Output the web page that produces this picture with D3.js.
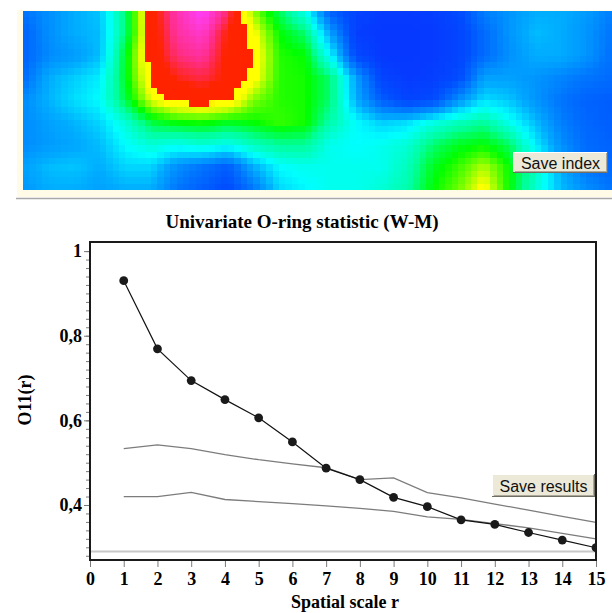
<!DOCTYPE html>
<html>
<head>
<meta charset="utf-8">
<script src="https://cdn.jsdelivr.net/npm/d3@7.9.0/dist/d3.min.js"></script>
<style>
  body { margin: 0; background: #fff; }
  svg { display: block; }
  .serif { font-family: "Liberation Serif", "Times New Roman", serif; font-weight: bold; fill: #000; }
  .btn text { font-family: "Liberation Sans", Arial, sans-serif; font-size: 16px; fill: #111; }
</style>
</head>
<body>
<svg id="chart" width="612" height="613"></svg>
<script>
// spatial scale r and the O-ring statistic with its simulation envelopes
const radii = [1, 2, 3, 4, 5, 6, 7, 8, 9, 10, 11, 12, 13, 14, 15];
const o11 = [0.930, 0.769, 0.694, 0.649, 0.606, 0.549, 0.487, 0.460, 0.418, 0.396, 0.365, 0.354, 0.335, 0.317, 0.299];
const upperEnv = [0.533, 0.542, 0.533, 0.519, 0.507, 0.497, 0.488, 0.460, 0.464, 0.429, 0.417, 0.402, 0.388, 0.373, 0.359];
const lowerEnv = [0.420, 0.420, 0.430, 0.413, 0.408, 0.403, 0.398, 0.392, 0.385, 0.372, 0.366, 0.356, 0.346, 0.333, 0.320];
const expectedLevel = 0.29;

const xTicks = [0, 1, 2, 3, 4, 5, 6, 7, 8, 9, 10, 11, 12, 13, 14, 15];
const yMajor = [0.4, 0.6, 0.8, 1];
const yLabels = ['0,4', '0,6', '0,8', '1'];

// intensity map of the pattern (rows top -> bottom, 0 = low, 1 = high)
const heatGrid = [
  [0.20, 0.25, 0.30, 0.33, 0.55, 0.85, 0.95, 1.00, 0.92, 0.70, 0.56, 0.42, 0.15, 0.08, 0.05, 0.05, 0.06, 0.10, 0.22, 0.26, 0.30, 0.30, 0.27, 0.22],
  [0.16, 0.25, 0.30, 0.32, 0.55, 0.84, 0.94, 0.97, 0.87, 0.77, 0.62, 0.55, 0.28, 0.06, 0.04, 0.04, 0.05, 0.08, 0.18, 0.26, 0.32, 0.30, 0.26, 0.20],
  [0.16, 0.24, 0.27, 0.32, 0.60, 0.84, 0.92, 0.94, 0.86, 0.80, 0.64, 0.62, 0.40, 0.10, 0.04, 0.04, 0.05, 0.08, 0.18, 0.25, 0.30, 0.30, 0.26, 0.19],
  [0.18, 0.30, 0.34, 0.38, 0.60, 0.81, 0.88, 0.90, 0.86, 0.78, 0.64, 0.63, 0.55, 0.28, 0.08, 0.05, 0.06, 0.10, 0.28, 0.28, 0.26, 0.23, 0.20, 0.18],
  [0.24, 0.31, 0.36, 0.40, 0.58, 0.75, 0.82, 0.84, 0.82, 0.69, 0.64, 0.63, 0.55, 0.30, 0.15, 0.08, 0.10, 0.25, 0.36, 0.33, 0.26, 0.20, 0.16, 0.15],
  [0.24, 0.28, 0.31, 0.35, 0.45, 0.58, 0.62, 0.63, 0.60, 0.62, 0.65, 0.63, 0.50, 0.40, 0.34, 0.36, 0.43, 0.48, 0.52, 0.42, 0.32, 0.22, 0.17, 0.15],
  [0.24, 0.27, 0.29, 0.32, 0.40, 0.45, 0.42, 0.45, 0.42, 0.48, 0.52, 0.52, 0.42, 0.40, 0.42, 0.45, 0.55, 0.60, 0.62, 0.56, 0.38, 0.25, 0.18, 0.16],
  [0.28, 0.32, 0.33, 0.30, 0.35, 0.35, 0.25, 0.20, 0.15, 0.30, 0.40, 0.42, 0.42, 0.42, 0.42, 0.48, 0.60, 0.65, 0.72, 0.62, 0.48, 0.30, 0.20, 0.17],
  [0.26, 0.30, 0.30, 0.28, 0.30, 0.30, 0.20, 0.15, 0.10, 0.20, 0.35, 0.39, 0.42, 0.42, 0.45, 0.50, 0.62, 0.68, 0.78, 0.62, 0.45, 0.32, 0.25, 0.20]
];

const svg = d3.select('#chart');

// ---- index map panel ----
svg.append('rect')
  .attr('x', 17).attr('y', 10).attr('width', 595).attr('height', 187)
  .attr('fill', '#fffbe6');
svg.append('line')
  .attr('x1', 16).attr('x2', 612).attr('y1', 198.5).attr('y2', 198.5)
  .attr('stroke', '#a8a8a8').attr('stroke-width', 1.5);

const heat = { x: 23, y: 10.7, w: 589, h: 178.6, cell: 6.4 };
const nRows = heatGrid.length;
const nCols = heatGrid[0].length;
const gx = d3.scaleLinear().domain([heat.x, heat.x + heat.w]).range([0, nCols - 1]);
const gy = d3.scaleLinear().domain([heat.y, heat.y + heat.h]).range([0, nRows - 1]);

const heatColor = d3.scaleLinear()
  .domain([0, 0.12, 0.20, 0.30, 0.40, 0.52, 0.62, 0.70, 0.76, 0.799, 0.80, 0.87, 0.93, 1.0])
  .range(['#0a2cff', '#0050ff', '#0074ff', '#00acff', '#00ffff', '#00ff9a', '#00ff00', '#90ff00', '#ffff00',
          '#ffff00', '#ff2200', '#ff2400', '#ff2e90', '#ff40ff'])
  .clamp(true);

function sampleGrid(px, py) {
  const u = gx(px), v = gy(py);
  const i = Math.max(0, Math.min(Math.floor(u), nCols - 2));
  const j = Math.max(0, Math.min(Math.floor(v), nRows - 2));
  const fu = u - i, fv = v - j;
  const top = d3.interpolateNumber(heatGrid[j][i], heatGrid[j][i + 1])(fu);
  const bot = d3.interpolateNumber(heatGrid[j + 1][i], heatGrid[j + 1][i + 1])(fu);
  return d3.interpolateNumber(top, bot)(fv);
}

const cells = [];
const cols = Math.ceil(heat.w / heat.cell);
const rows = Math.ceil(heat.h / heat.cell);
for (let r = 0; r < rows; r++) {
  for (let c = 0; c < cols; c++) {
    const x0 = heat.x + c * heat.cell;
    const y0 = heat.y + r * heat.cell;
    const w = Math.min(heat.cell, heat.x + heat.w - x0);
    const h = Math.min(heat.cell, heat.y + heat.h - y0);
    cells.push({ x: x0, y: y0, w, h, v: sampleGrid(x0 + w / 2, y0 + h / 2) });
  }
}

svg.append('g')
  .attr('shape-rendering', 'crispEdges')
  .selectAll('rect')
  .data(cells)
  .join('rect')
  .attr('x', d => d.x)
  .attr('y', d => d.y)
  .attr('width', d => d.w + 0.6)
  .attr('height', d => d.h + 0.6)
  .attr('fill', d => heatColor(d.v));

function button(x, y, w, h, label) {
  const g = svg.append('g').attr('class', 'btn').attr('shape-rendering', 'crispEdges');
  g.append('rect').attr('x', x).attr('y', y).attr('width', w).attr('height', h).attr('fill', '#ece9d8');
  g.append('path').attr('d', `M${x + 0.5},${y + h - 1} V${y + 0.5} H${x + w - 1}`)
    .attr('fill', 'none').attr('stroke', '#fff');
  g.append('path').attr('d', `M${x + 1.5},${y + h - 1.5} H${x + w - 1.5} V${y + 1}`)
    .attr('fill', 'none').attr('stroke', '#aca899');
  g.append('path').attr('d', `M${x},${y + h - 0.5} H${x + w - 0.5} V${y}`)
    .attr('fill', 'none').attr('stroke', '#716f64');
  g.append('text')
    .attr('x', x + w / 2).attr('y', y + h / 2 + 6)
    .attr('text-anchor', 'middle')
    .text(label);
}

button(513, 152, 95, 21, 'Save index');

// ---- O-ring plot ----
const frame = { left: 90, right: 596, top: 242, bottom: 560 };
const x = d3.scaleLinear().domain([0, 15]).range([frame.left, frame.right]);
const y = d3.scaleLinear().domain([0.27, 1.0215]).range([frame.bottom, frame.top]);

svg.append('text')
  .attr('class', 'serif')
  .attr('x', 302).attr('y', 228)
  .attr('text-anchor', 'middle')
  .style('font-size', '19px')
  .text('Univariate O-ring statistic (W-M)');

const plot = svg.append('g');

// expected value under complete spatial randomness
plot.append('line')
  .attr('x1', x(0)).attr('x2', x(15))
  .attr('y1', y(expectedLevel)).attr('y2', y(expectedLevel))
  .attr('stroke', '#c8c8c8').attr('stroke-width', 2);

const line = d3.line().x((d, i) => x(radii[i])).y(d => y(d));

[upperEnv, lowerEnv].forEach(env => {
  plot.append('path')
    .attr('d', line(env))
    .attr('fill', 'none')
    .attr('stroke', '#7c7c7c')
    .attr('stroke-width', 1.3);
});

plot.append('path')
  .attr('d', line(o11))
  .attr('fill', 'none')
  .attr('stroke', '#111')
  .attr('stroke-width', 1.2);

plot.selectAll('circle')
  .data(o11)
  .join('circle')
  .attr('cx', (d, i) => x(radii[i]))
  .attr('cy', d => y(d))
  .attr('r', 4.4)
  .attr('fill', '#1a1a1a');

// frame
svg.append('rect')
  .attr('x', frame.left).attr('y', frame.top)
  .attr('width', frame.right - frame.left).attr('height', frame.bottom - frame.top)
  .attr('fill', 'none').attr('stroke', '#1a1a1a').attr('stroke-width', 2);

// keep the last marker inside the plotting area
svg.append('rect')
  .attr('x', frame.right + 1).attr('y', frame.top - 5)
  .attr('width', 20).attr('height', frame.bottom - frame.top + 10)
  .attr('fill', '#fff');
svg.append('line')
  .attr('x1', frame.right).attr('x2', frame.right)
  .attr('y1', frame.top - 1).attr('y2', frame.bottom + 1)
  .attr('stroke', '#1a1a1a').attr('stroke-width', 2);

// y axis: minor every 0.02, major labelled
const yMinor = [];
for (let v = 28; v <= 100; v += 2) yMinor.push(v / 100);

const yMinorAxis = svg.append('g')
  .attr('transform', `translate(${frame.left - 1},0)`)
  .call(d3.axisLeft(y).tickValues(yMinor).tickSize(3).tickFormat(''));
const yMajorAxis = svg.append('g')
  .attr('transform', `translate(${frame.left - 1},0)`)
  .call(d3.axisLeft(y).tickValues(yMajor).tickSize(5).tickPadding(2)
    .tickFormat((d, i) => yLabels[i]));

const xAxis = svg.append('g')
  .attr('transform', `translate(0,${frame.bottom + 1})`)
  .call(d3.axisBottom(x).tickValues(xTicks).tickSize(6).tickPadding(5).tickFormat(d3.format('d')));

[yMinorAxis, yMajorAxis, xAxis].forEach(ax => {
  ax.select('.domain').remove();
  ax.selectAll('.tick line').attr('stroke', '#7a7a7a');
  ax.selectAll('text')
    .attr('class', 'serif')
    .style('font-size', '18px');
});

svg.append('text')
  .attr('class', 'serif')
  .attr('transform', 'translate(31,400) rotate(-90)')
  .attr('text-anchor', 'middle')
  .style('font-size', '18px')
  .text('O11(r)');

svg.append('text')
  .attr('class', 'serif')
  .attr('x', 345).attr('y', 608)
  .attr('text-anchor', 'middle')
  .style('font-size', '18px')
  .text('Spatial scale r');

button(492, 474, 103, 23, 'Save results');
</script>
</body>
</html>
